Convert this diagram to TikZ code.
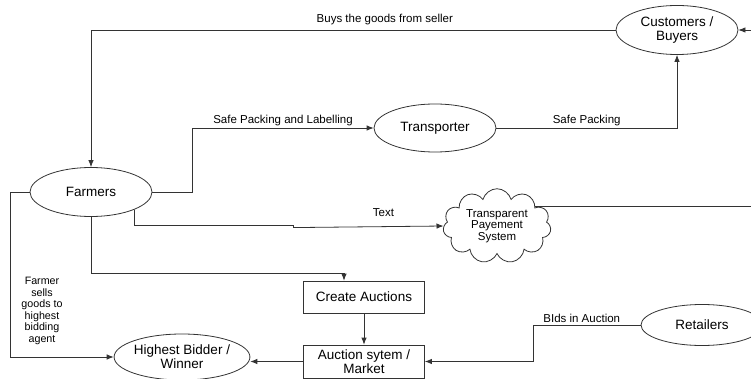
\documentclass[tikz,border=0pt]{standalone}
\usepackage{fontspec}
\setmainfont{Liberation Sans}
\usepackage{tikz}
\usetikzlibrary{arrows.meta,shapes.geometric,shapes.symbols}
\tikzstyle{actor} = [draw, ellipse, inner sep=0pt, minimum width=122pt, minimum height=49pt, align=center, font=\fontsize{13.5}{14}\selectfont]
\tikzstyle{proc} = [draw, rectangle, inner sep=0pt, minimum width=121pt, minimum height=33pt, align=center, font=\fontsize{13.5}{14}\selectfont]
\tikzstyle{pay} = [draw, cloud, cloud puffs=11, aspect=1.5, inner sep=0pt, minimum width=108pt, minimum height=70pt, align=center, font=\fontsize{11.5}{11.5}\selectfont]
\tikzstyle{lbl} = [inner sep=1pt, font=\fontsize{11.5}{13}\selectfont]
\tikzstyle{flow} = [-{Latex[length=7pt,width=5.5pt]}, line width=0.8pt]

\begin{document}
\begin{tikzpicture}[x=1pt, y=-1pt, line width=0.8pt, draw=black!80]
\useasboundingbox (0,0) rectangle (751,379);

\node[actor] (cust) at (677,30) {Customers /\\Buyers};
\node[actor] (farm) at (91,192) {Farmers};
\node[actor, minimum height=48pt] (trans) at (435,128) {Transporter};
\node[pay] (tps) at (497,226) {Transparent\\Payement\\System};
\node[proc, minimum height=32pt] (create) at (364,297) {Create Auctions};
\node[proc] (market) at (364,361.5) {Auction sytem /\\Market};
\node[actor, minimum height=46pt] (hbid) at (182,357) {Highest Bidder /\\Winner};
\node[actor, minimum height=41pt] (ret) at (702,325) {Retailers};
\node[lbl, align=center, font=\fontsize{10.7}{11.6}\selectfont] (sellnote) at (42,311) {Farmer\\sells\\goods to\\highest\\bidding\\agent};

\coordinate (custin) at (751,30);
\coordinate (tpsout) at (751,203);

\draw[flow] (cust.west) -| (farm.north) node[lbl, above=4pt, pos=0.22] (buylbl) {Buys the goods from seller};
\draw[flow] (custin) -- (cust.east);
\draw[flow] (farm.east) -- ++(40,0) |- (trans.west) node[lbl, above=1pt, pos=0.75] (packlbl) {Safe Packing and Labelling};
\draw[flow] (trans.east) -| (cust.south) node[lbl, above=1pt, pos=0.25] (safelbl) {Safe Packing};
\draw[flow] (farm.-22) -- ++(0,16) -- ++(159,0) -- ++(0,2) -- (tps.west) node[lbl, above=9pt, pos=0.6] (textlbl) {Text};
\draw (tps.27) -- (tps.27 -| tpsout);
\draw[flow] (farm.south) -- ++(0,56) -| ([xshift=-20pt]create.north);
\draw[flow] (create.south) -- (market.north);
\draw[flow] (market.west) -- (market.west -| hbid.east);
\draw[flow] (farm.west) -- ++(-19,0) |- (hbid.west);
\draw[flow] (ret.west) -- ++(-107,0) node[lbl, above=1pt, pos=0.55] (bidlbl) {BIds in Auction} |- (market.east);
\end{tikzpicture}
\end{document}
